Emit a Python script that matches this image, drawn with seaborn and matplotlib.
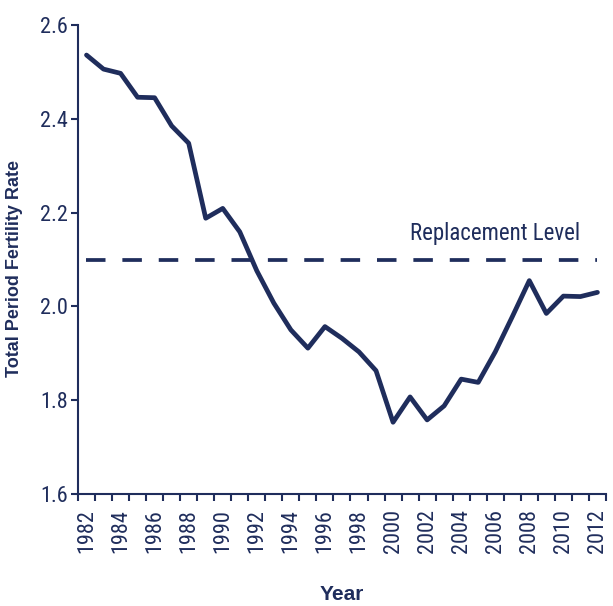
import pandas as pd
import seaborn as sns
import matplotlib.pyplot as plt
from matplotlib.ticker import MultipleLocator, FixedLocator
from matplotlib import font_manager
from matplotlib.font_manager import FontProperties

# --- Data ---
years = list(range(1982, 2013))
tfr = [2.536, 2.506, 2.497, 2.446, 2.445, 2.385, 2.348, 2.188, 2.209, 2.159,
       2.076, 2.007, 1.950, 1.911, 1.957, 1.932, 1.903, 1.863, 1.753, 1.807,
       1.758, 1.788, 1.845, 1.838, 1.903, 1.978, 2.055, 1.985, 2.022, 2.021,
       2.030]
replacement_level = 2.1
replacement_label = "Replacement Level"

navy = "#1f2d5c"

sns.set_style("white")
plt.rcParams['font.family'] = ['Liberation Sans', 'DejaVu Sans']


def find_narrow_font():
    # the chart uses an Arial Narrow style face for ticks and the annotation
    prefs = ["Liberation Sans Narrow", "Arial Narrow", "Roboto Condensed",
             "Open Sans Condensed", "DejaVu Sans"]
    found = {}
    for f in font_manager.fontManager.ttflist:
        narrow = ("Narrow" in f.name or "Condensed" in f.name
                  or f.stretch in ("condensed", "semi-condensed"))
        regular = f.style == "normal" and f.weight in (400, "normal", "regular", "book")
        if narrow and regular:
            found.setdefault(f.name, f.fname)
    for p in prefs:
        if p in found:
            return found[p]
    return next(iter(found.values()), None)


narrow_file = find_narrow_font()
if narrow_file:
    tick_fp = FontProperties(fname=narrow_file, size=16)
    note_fp = FontProperties(fname=narrow_file, size=16.5)
else:
    tick_fp = FontProperties(family="Liberation Sans", size=14)
    note_fp = FontProperties(family="Liberation Sans", size=15)

df = pd.DataFrame({"Year": years, "TFR": tfr})
ref = pd.DataFrame({"Year": years, "TFR": [replacement_level] * len(years)})

fig = plt.figure(figsize=(6.13, 6.06), dpi=100)
ax = fig.add_axes([0.1272, 0.1848, 0.8613, 0.7739])

sns.lineplot(data=ref, x="Year", y="TFR", ax=ax, color=navy, linewidth=2.7,
             linestyle=(0, (5.2, 4.5)))
sns.lineplot(data=df, x="Year", y="TFR", ax=ax, color=navy, linewidth=3.4)

ax.text(2011.0, 2.155, replacement_label, ha="right", va="center",
        color=navy, fontproperties=note_fp)

ax.set_xlim(1981.5, 2012.5)
ax.set_ylim(1.6, 2.6)

# category-style axis: ticks between years, labels on even years
ax.xaxis.set_major_locator(FixedLocator(years[::2]))
ax.xaxis.set_minor_locator(MultipleLocator(1, offset=0.5))
ax.yaxis.set_major_locator(MultipleLocator(0.2))
ax.set_xticklabels([str(y) for y in years[::2]], rotation=90)
ax.set_yticklabels([f"{v:.1f}" for v in ax.get_yticks()])
for lbl in ax.get_xticklabels() + ax.get_yticklabels():
    lbl.set_fontproperties(tick_fp)
    lbl.set_color(navy)

ax.tick_params(axis="x", which="major", length=0, pad=11)
ax.tick_params(axis="x", which="minor", length=5, width=1.5, color=navy,
               direction="out", bottom=True)
ax.tick_params(axis="y", which="major", length=5, width=1.5, color=navy,
               direction="out", pad=2, left=True)

for side in ["top", "right"]:
    ax.spines[side].set_visible(False)
for side in ["left", "bottom"]:
    ax.spines[side].set_color(navy)
    ax.spines[side].set_linewidth(1.5)

ax.set_xlabel("Year", fontsize=15, fontweight="bold", color=navy)
ax.set_ylabel("Total Period Fertility Rate", fontsize=13, fontweight="bold", color=navy)
ax.xaxis.label.set_va("baseline")
ax.xaxis.set_label_coords(0.5, -0.226)
ax.yaxis.set_label_coords(-0.105, 0.48)

fig.savefig("out.png", dpi=100)
